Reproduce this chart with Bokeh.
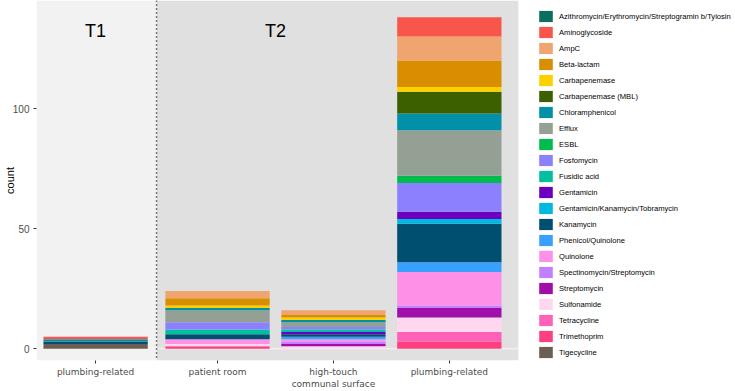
from bokeh.plotting import figure
from bokeh.models import (ColumnDataSource, Range1d, FixedTicker, Legend, LegendItem,
                          BoxAnnotation, Span, Label)
from bokeh.embed import file_html
from bokeh.resources import INLINE

# ---------------- data ----------------
facets = ["T1", "T2", "T2", "T2"]
sites = ["plumbing-related", "patient room", "high-touch\ncommunal surface", "plumbing-related"]

genes = ["Azithromycin/Erythromycin/Streptogramin b/Tylosin", "Aminoglycoside", "AmpC",
         "Beta-lactam", "Carbapenemase", "Carbapenemase (MBL)", "Chloramphenicol", "Efflux",
         "ESBL", "Fosfomycin", "Fusidic acid", "Gentamicin",
         "Gentamicin/Kanamycin/Tobramycin", "Kanamycin", "Phenicol/Quinolone", "Quinolone",
         "Spectinomycin/Streptomycin", "Streptomycin", "Sulfonamide", "Tetracycline",
         "Trimethoprim", "Tigecycline"]
colors = ["#0B6E5E", "#F9564B", "#F0A46F", "#D98E00", "#FFD000", "#3C5F00", "#0090A8",
          "#95A094", "#00BB4E", "#8C80FF", "#00C0A0", "#6B00C0", "#00B8E0", "#004F70",
          "#3AA0FF", "#FF90E8", "#C080FF", "#A010A8", "#FFD8F0", "#FF60B8", "#FF4080",
          "#6B5E52"]

# counts per site: [T1 plumbing, T2 patient room, T2 high-touch, T2 plumbing]
azithro = [0, 0, 0, 0]
aminoglycoside = [1, 0, 0, 8]
ampc = [0, 3, 2, 10]
beta_lactam = [0, 3, 1, 11]
carbapenemase = [0, 1, 1, 2]
carbapenemase_mbl = [0, 0, 0, 9]
chloramphenicol = [1, 1, 1, 7]
efflux = [0, 5, 2, 19]
esbl = [0, 0, 0, 3]
fosfomycin = [0, 3, 1, 12]
fusidic_acid = [0, 2, 1, 0]
gentamicin = [0, 0, 1, 3]
gen_kan_tob = [0, 0, 0, 2]
kanamycin = [1, 2, 1, 16]
phenicol_quinolone = [0, 0, 1, 4]
quinolone = [0, 2, 1, 14]
spectinomycin = [0, 0, 1, 1]
streptomycin = [0, 0, 1, 4]
sulfonamide = [0, 1, 1, 6]
tetracycline = [0, 0, 0, 4]
trimethoprim = [0, 1, 0, 3]
tigecycline = [2, 0, 0, 0]

series = [azithro, aminoglycoside, ampc, beta_lactam, carbapenemase, carbapenemase_mbl,
          chloramphenicol, efflux, esbl, fosfomycin, fusidic_acid, gentamicin, gen_kan_tob,
          kanamycin, phenicol_quinolone, quinolone, spectinomycin, streptomycin,
          sulfonamide, tetracycline, trimethoprim, tigecycline]

y_ticks = [0, 50, 100]

# ---------------- layout helpers ----------------
facet_gap = 0.052
x = [i + (facet_gap if f == "T2" else 0.0) for i, f in enumerate(facets)]
divider = (x[0] + x[1]) / 2
panel_left = x[0] - 0.51
panel_right = x[-1] + 0.595
PX = 115.9                      # approx pixels per x unit
canvas_right = panel_left + (735 - 36) / PX   # frame extends under the legend

data = {"x": x}
keys = []
for i, s in enumerate(series):
    k = "s%d" % i
    data[k] = s
    keys.append(k)
source = ColumnDataSource(data)

p = figure(width=735, height=391,
           x_range=Range1d(panel_left, canvas_right),
           y_range=Range1d(-4.9, 145.0),
           output_backend="svg", toolbar_location=None,
           min_border_left=36, min_border_right=0, min_border_top=0,
           min_border_bottom=28)
p.outline_line_color = None
p.background_fill_color = "white"
p.border_fill_color = "white"
p.xgrid.visible = False
p.ygrid.visible = False

# facet backgrounds
p.add_layout(BoxAnnotation(left=panel_left, right=divider, fill_color="#F2F2F2",
                           fill_alpha=1, line_color=None, level="underlay"))
p.add_layout(BoxAnnotation(left=divider, right=panel_right, fill_color="#E0E0E0",
                           fill_alpha=1, line_color=None, level="underlay"))
p.add_layout(BoxAnnotation(left=panel_left, right=panel_right, top=0.25, bottom=-0.25,
                           fill_color="#F7F7F7", fill_alpha=1, line_color=None,
                           level="underlay"))

# stacked bars: bottom of stack is last legend entry
stack_keys = keys[::-1]
stack_colors = colors[::-1]
renderers = p.vbar_stack(stack_keys, x="x", width=0.9, color=stack_colors,
                         line_color=None, source=source)
rmap = dict(zip(stack_keys, renderers))

p.add_layout(Span(location=divider, dimension="height", line_color="black",
                  line_width=1.5, line_dash="1 3"))

p.add_layout(Label(x=x[0], y=132.1, text=facets[0], text_align="center",
                   text_baseline="middle", text_font="Liberation Sans",
                   text_font_size="18px", text_color="black"))
p.add_layout(Label(x=(x[1] + x[2]) / 2, y=132.1, text=facets[1], text_align="center",
                   text_baseline="middle", text_font="Liberation Sans",
                   text_font_size="18px", text_color="black"))

# axes
xa = p.xaxis[0]
xa.ticker = FixedTicker(ticks=x)
xa.major_label_overrides = {xv: lab for xv, lab in zip(x, sites)}
xa.minor_tick_line_color = None
xa.axis_line_color = None
xa.major_tick_out = 3
xa.major_tick_in = 0
xa.major_tick_line_color = "#333333"
xa.major_label_standoff = 3
xa.major_label_text_font = "DejaVu Sans"
xa.major_label_text_font_size = "9px"
xa.major_label_text_color = "#4D4D4D"

ya = p.yaxis[0]
ya.ticker = FixedTicker(ticks=y_ticks)
ya.minor_tick_line_color = None
ya.axis_line_color = None
ya.major_tick_out = 3
ya.major_tick_in = 0
ya.major_tick_line_color = "#333333"
ya.major_label_standoff = 4
ya.major_label_text_font = "Liberation Sans"
ya.major_label_text_font_size = "10px"
ya.major_label_text_color = "#4D4D4D"
ya.axis_label = "count"
ya.axis_label_text_font = "Liberation Sans"
ya.axis_label_text_font_size = "11px"
ya.axis_label_text_font_style = "normal"
ya.axis_label_text_color = "black"
ya.axis_label_standoff = -6

items = [LegendItem(label=g, renderers=[rmap[k]]) for g, k in zip(genes, keys)]
legend = Legend(items=items, location=(501, 1), orientation="vertical",
                glyph_width=17, glyph_height=14, label_height=14, label_width=20,
                spacing=2, padding=0, margin=0, label_standoff=5,
                label_text_font="Liberation Sans", label_text_font_size="7.6px",
                label_text_color="black", border_line_color=None,
                background_fill_alpha=0)
p.add_layout(legend, "center")

open("out.html", "w").write(file_html(p, INLINE))
